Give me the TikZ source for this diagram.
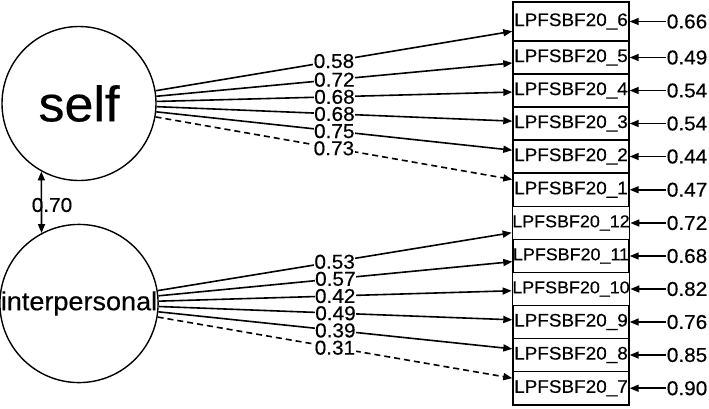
\documentclass[tikz,border=0pt]{standalone}
\usepackage{fontspec}
\setmainfont{Liberation Sans}[FakeStretch=1.04,FakeBold=0.4]
\usetikzlibrary{arrows.meta}
\tikzset{
  lat/.style={circle,draw,line width=1.4pt,inner sep=0pt,minimum size=154pt},
  ind/.style={rectangle,draw,line width=1.4pt,inner sep=0pt,minimum width=116pt},
  tip/.tip={Triangle[length=9pt,width=7pt]},
  load/.style={line width=1.6pt,-tip},
  fixed/.style={load,dash pattern=on 6pt off 4pt},
  res/.style={line width=1.6pt,-tip},
  corr/.style={line width=1.6pt,tip-tip},
  lbl/.style={fill=white,inner sep=0.4pt,text height=14pt,text depth=0pt,font=\fontsize{20}{20}\selectfont},
  rlbl/.style={inner sep=0.6pt,anchor=west,font=\fontsize{20}{20}\selectfont},
}
\begin{document}
\begin{tikzpicture}[x=1pt,y=-1pt]
\useasboundingbox (0,0) rectangle (709,408);
\node[lat,font=\fontsize{50}{50}\selectfont] (self) at (79,103.5) {self};
\node[lat,font=\fontsize{26}{26}\selectfont] (inter) at (79,303.5) {interpersonal};
\foreach \n/\t/\b/\lab/\fs/\r in {
  x6/2/41/6/18.2/0.66, x5/41/74/5/18.2/0.49, x4/74/107/4/18.2/0.54,
  x3/107/140/3/18.2/0.54, x2/140/173/2/18.2/0.44, x1/173/206.5/1/18.2/0.47,
  x12/206.5/239.5/12/17.2/0.72, x11/239.5/272.5/11/17.2/0.68,
  x10/272.5/305.5/10/17.2/0.82, x9/305.5/338.5/9/18.2/0.76,
  x8/338.5/371.5/8/18.2/0.85, x7/371.5/405/7/18.2/0.90}{
  \pgfmathsetmacro\c{(\t+\b)/2}
  \pgfmathsetmacro\h{\b-\t}
  \node[ind,minimum height=\h pt,font=\fontsize{\fs}{\fs}\selectfont] (\n) at (571,\c) {LPFSBF20\_\lab};
  \node[rlbl] (e\n) at (666,\c) {\r};
  \draw[res] (e\n) -- (\n);
}
\draw[load] (self) -- node[lbl]{0.58} (x6);
\draw[load] (self) -- node[lbl]{0.72} (x5);
\draw[load] (self) -- node[lbl]{0.68} (x4);
\draw[load] (self) -- node[lbl]{0.68} (x3);
\draw[load] (self) -- node[lbl]{0.75} (x2);
\draw[fixed] (self) -- node[lbl]{0.73} (x1);
\draw[load] (inter) -- node[lbl]{0.53} (x12);
\draw[load] (inter) -- node[lbl]{0.57} (x11);
\draw[load] (inter) -- node[lbl]{0.42} (x10);
\draw[load] (inter) -- node[lbl]{0.49} (x9);
\draw[load] (inter) -- node[lbl]{0.39} (x8);
\draw[fixed] (inter) -- node[lbl]{0.31} (x7);
\draw[corr] (self.241.3) -- (inter.118.7);
\node[font=\fontsize{20}{20}\selectfont,inner sep=0pt] (c70) at (52,205) {0.70};
\end{tikzpicture}
\end{document}
